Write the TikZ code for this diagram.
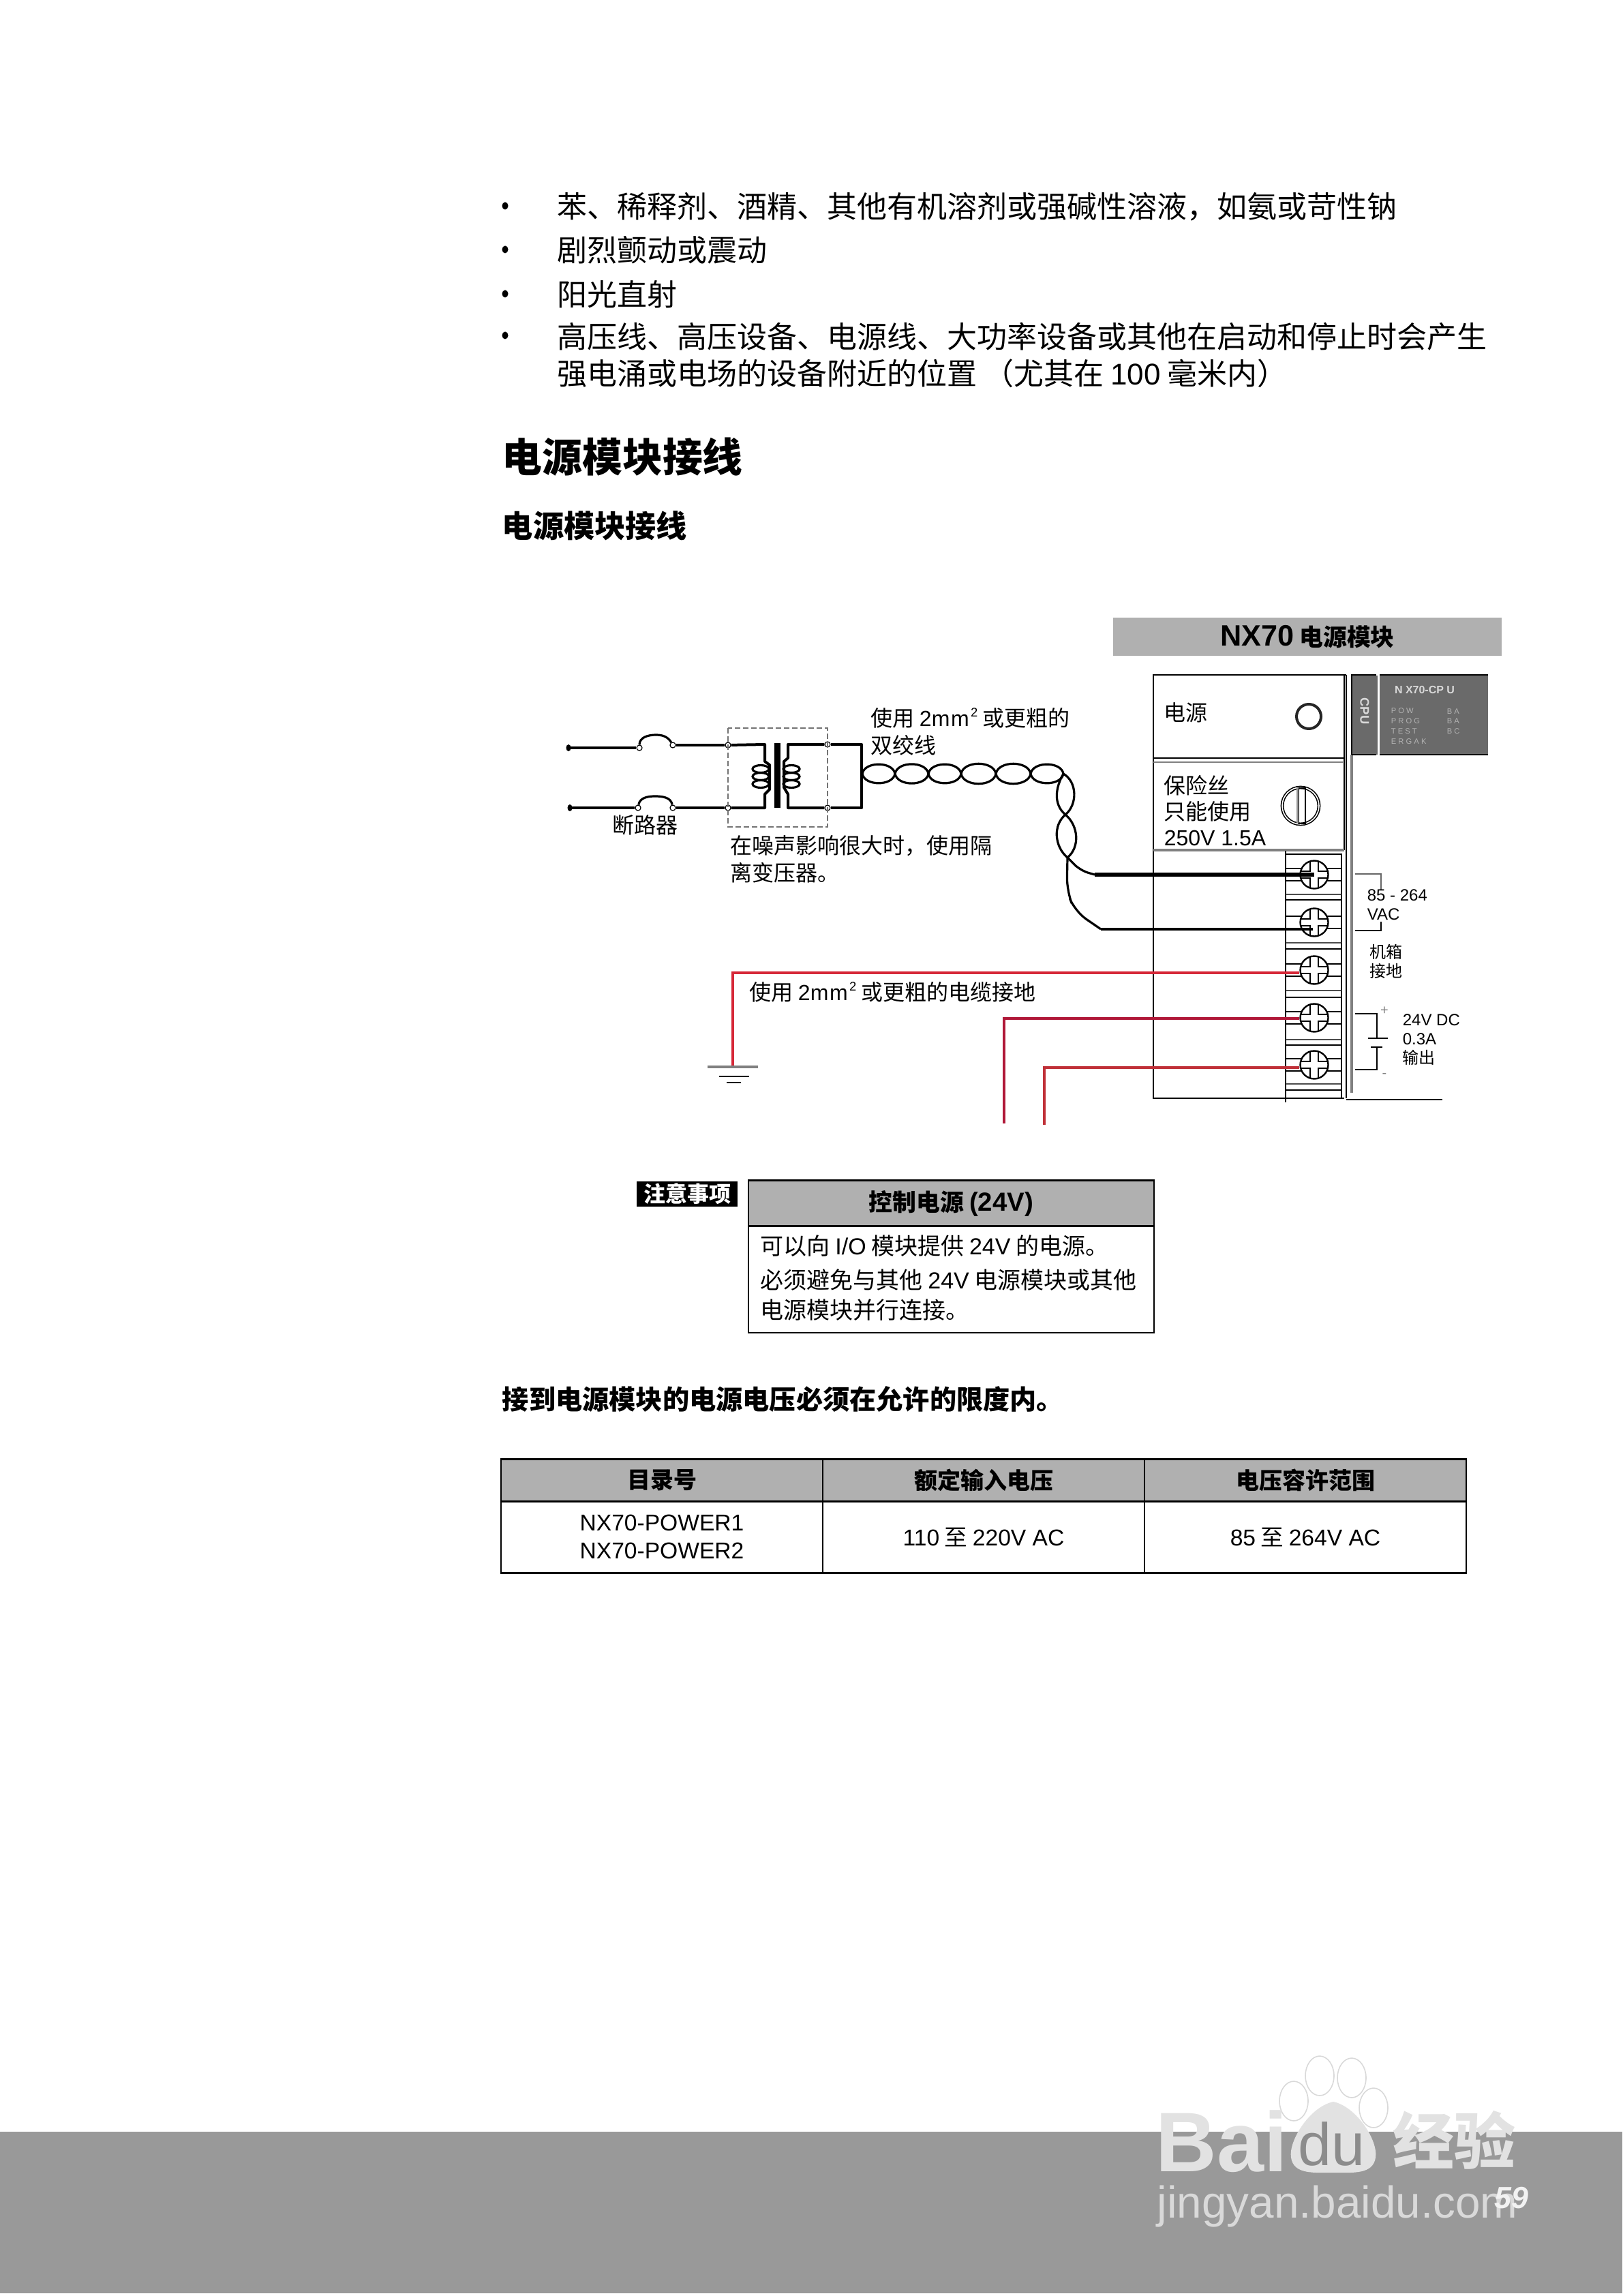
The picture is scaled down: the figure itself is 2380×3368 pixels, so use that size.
\documentclass[tikz,border=0pt]{standalone}
\usepackage{fontspec}
\setmainfont{Noto Sans CJK SC}
\newfontfamily\latfont{Liberation Sans}
\newcommand{\la}[1]{{\latfont #1}}
\newcommand{\fs}[2]{\fontsize{#1}{#2}\selectfont}
\newcommand{\sqmm}{\la{2m\kern0.4pt m\kern0.6pt\raisebox{3.4pt}{\fs{4.6}{5}2}}}
\definecolor{headgray}{HTML}{B0B0B0}
\definecolor{bandgray}{HTML}{999999}
\definecolor{cpugray}{HTML}{6A6A6A}
\definecolor{markgray}{HTML}{E2E2E2}
\definecolor{redA}{HTML}{D62838}
\definecolor{redB}{HTML}{B01838}
\definecolor{redC}{HTML}{C03038}
\begin{document}
\begin{tikzpicture}[x=0.25pt, y=-0.25pt,
	txt/.style={anchor=west, inner sep=0, align=left},
	body/.style={txt, font=\fs{11}{13.4}},
	diag/.style={txt, font=\fs{8}{10}},
	tiny/.style={txt, font=\fs{6}{7}},
	wire/.style={line width=1pt, line join=round},
	thin wire/.style={line width=0.8pt},
	contact/.style={circle, draw, fill=white, line width=0.3pt, minimum size=2pt, inner sep=0},
	screw/.style={circle, draw, fill=white, line width=0.6pt, minimum size=10.25pt, inner sep=0},
	head/.style={draw, fill=headgray, inner sep=0, line width=0.3pt, font=\fs{8.5}{10}\bfseries},
	cell/.style={draw, inner sep=0, line width=0.3pt, align=center, font=\fs{8.4}{10.2}},
	panel/.style={fill=cpugray, inner sep=0, text=white!85!black}]
	\useasboundingbox (0,0) rectangle (2380,3368);

	\fill[bandgray] (0,3127) rectangle (2380,3364);
	\foreach \mx/\my/\mr in {1898/3082/1, 1936/3045/2, 1983/3048/3, 2015/3092/4}
		\draw[black!15, fill=white, line width=0.4pt] (\mx,\my) ellipse [x radius=21, y radius=29];
	\fill[markgray] (1956,3083) .. controls (1990,3090) and (2022,3140) .. (2018,3165) .. controls (2014,3190) and (1985,3187) .. (1956,3187) .. controls (1927,3187) and (1898,3190) .. (1894,3165) .. controls (1890,3140) and (1922,3090) .. (1956,3083);
	\node (markbai) at (1695,3185) [anchor=base west, inner sep=0, text=markgray, font=\fs{31}{32}\bfseries\latfont] {Bai};
	\node (markdu) at (1953,3176) [anchor=base, inner sep=0, text=black!45, font=\fs{22}{22}\latfont] {du};
	\node (markjy) at (2043,3139) [txt, text=markgray, font=\fs{22.5}{24}\bfseries] {经验};
	\node (markurl) at (1697,3253) [anchor=base west, inner sep=0, text=black!15, font=\fs{16.4}{18}\latfont] {jingyan.baidu.com};
	\node (pageno) at (2217,3224) [inner sep=0, text=black!5, font=\fs{11.2}{12}\bfseries\itshape\latfont] {59};

	\foreach \by in {302, 366, 431, 492}
		\fill (741,\by) ellipse [x radius=4.5, y radius=5.5];
	\node (line1) at (817,303) [body] {苯、稀释剂、酒精、其他有机溶剂或强碱性溶液，如氨或苛性钠};
	\node (line2) at (817,367) [body] {剧烈颤动或震动};
	\node (line3) at (817,432) [body] {阳光直射};
	\node (line4) at (817,521) [body] {高压线、高压设备、电源线、大功率设备或其他在启动和停止时会产生\\强电涌或电场的设备附近的位置 （尤其在 \la{100} 毫米内）};
	\node (title) at (736,670) [txt, font=\fs{14.7}{18}\bfseries] {电源模块接线};
	\node (subtitle) at (736,771) [txt, font=\fs{11.3}{14}\bfseries] {电源模块接线};

	\node (nxhead) at (1918,934) [fill=headgray, inner sep=0, minimum width=142.5pt, minimum height=14pt, font=\fs{8.7}{10}\bfseries] {{\fs{10.8}{10}\latfont NX70} 电源模块};

	\draw[line width=0.6pt] (1692,1247) -- (1692,1611) -- (1972,1611);
	\draw[line width=0.6pt] (1692,1247) -- (1692,990) -- (1975,990);
	\draw[line width=0.7pt] (1975,990) -- (1975,1611);
	\draw[line width=0.4pt] (1972,990) -- (1972,1247);
	\draw[black!50, line width=0.8pt] (1983,1107) -- (1983,1603);
	\draw[line width=0.7pt] (1975,1613) -- (2116,1613);
	\draw[line width=0.6pt] (1692,1112) -- (1972,1112);
	\draw[black!50, line width=0.6pt] (1692,1118) -- (1972,1118);
	\draw[black!50, line width=1pt] (1692,1247) -- (1972,1247);

	\node (cpuside) at (2002,1049) [panel, minimum width=9.25pt, minimum height=29pt] {};
	\node (cpupanel) at (2103.5,1049) [panel, minimum width=39.75pt, minimum height=29pt] {};
	\draw[line width=0.6pt] (1983,1107) -- (1983,990) -- (2019,990) (2024,990) -- (2183,990);
	\draw[line width=0.6pt] (1983,1107) -- (2019,1107) (2024,1107) -- (2183,1107);
	\node (cputag) at (2002,1043) [inner sep=0, rotate=-90, text=white!85!black, font=\fs{4.6}{5}\bfseries\latfont] {CPU};
	\node (cpuname) at (2090,1012) [inner sep=0, text=white!85!black, font=\fs{4}{4}\bfseries\latfont] {N X70-CP U};
	\node (cpuleds) at (2040,1065) [txt, text=white!70!black, font=\fs{2.8}{3.7}\latfont] {P O W\\P R O G\\T E S T\\E R G A K};
	\node (cpuledr) at (2122,1058) [txt, text=white!70!black, font=\fs{2.8}{3.7}\latfont] {B A\\B A\\B C};

	\node (power) at (1707,1045) [diag] {电源};
	\node (powerled) at (1920,1051) [circle, draw, black!85, line width=1pt, minimum size=9pt, inner sep=0] {};
	\node (fuse) at (1707,1189) [txt, font=\fs{8}{9.6}] {保险丝\\只能使用\\\la{250V 1.5A}};
	\node (fusecap) at (1908,1182) [circle, draw, double, double distance=0.4pt, line width=0.4pt, minimum size=13.5pt, inner sep=0] {};
	\node (fuseslot) at (1910,1182) [draw, line width=0.4pt, minimum width=2.5pt, minimum height=13pt, inner sep=0] {};
	\fill[black!40] (1902,1155) rectangle (1905,1208);

	\draw[line width=0.5pt] (1886,1248) -- (1886,1617);
	\draw[line width=0.6pt] (1886,1253) -- (1968,1253) -- (1968,1611);
	\foreach \sepa/\sepb in {1312/1320, 1383/1392, 1453/1463, 1525/1533, 1590/1599} {
		\draw[black!70, line width=0.5pt] (1886,\sepa) -- (1968,\sepa);
		\draw[line width=0.5pt] (1886,\sepb) -- (1968,\sepb);
	}
	\foreach \sn/\sy in {1/1283, 2/1353, 3/1423, 4/1493, 5/1562} {
		\draw[line width=0.4pt] (1886,\sy-9) -- (1968,\sy-9) (1886,\sy+9) -- (1968,\sy+9);
		\node (screw\sn) at (1928,\sy) [screw] {};
		\draw[line width=0.4pt] (1922,\sy-20) -- (1922,\sy-5) -- (1909,\sy-5) (1909,\sy+5) -- (1922,\sy+5) -- (1922,\sy+20) (1934,\sy+20) -- (1934,\sy+5) -- (1947,\sy+5) (1947,\sy-5) -- (1934,\sy-5) -- (1934,\sy-20);
	}

	\coordinate (brkA) at (834,1097);
	\coordinate (brkB) at (836,1185);
	\node (ctA1) at (938,1097) [contact] {};
	\node (ctA2) at (987,1093) [contact] {};
	\node (ctB1) at (936,1185) [contact] {};
	\node (ctB2) at (987,1185) [contact] {};
	\node (ctC1) at (1068,1093) [contact] {};
	\node (ctC2) at (1068,1185) [contact] {};
	\node (ctD1) at (1214,1092) [contact] {};
	\node (ctD2) at (1214,1185) [contact] {};
	\fill (brkA) ellipse [x radius=3.5, y radius=5];
	\fill (brkB) ellipse [x radius=3.5, y radius=5];
	\draw[wire] (brkA) -- (ctA1);
	\draw[wire] (brkB) -- (ctB1);
	\draw[wire] (ctA2) -- (ctC1);
	\draw[wire] (ctB2) -- (ctC2);
	\draw[thin wire] (ctA1) to[out=90, in=180] (962,1078) to[out=0, in=120] (ctA2);
	\draw[thin wire] (ctB1) to[out=80, in=180] (961,1168) to[out=0, in=100] (ctB2);

	\draw[black!55, dash pattern=on 2pt off 1pt, line width=0.7pt] (1068,1068) rectangle (1214,1213);
	\draw[wire] (ctC1) -- (1122,1092) -- (1122,1117) -- (1129,1122) -- (1129,1158) -- (1122,1165) -- (1122,1185) -- (ctC2);
	\draw[wire] (ctD1) -- (1156,1092) -- (1156,1112) -- (1150,1117) -- (1150,1155) -- (1156,1165) -- (1156,1185) -- (ctD2);
	\draw[wire] (ctD1) -- (1264,1092) -- (1264,1185) -- (ctD2);
	\fill (1136,1090) rectangle (1145,1185);
	\foreach \cy in {1128, 1139, 1150} {
		\draw[thin wire] (1116,\cy) ellipse [x radius=12, y radius=5.5];
		\draw[thin wire] (1161,\cy) ellipse [x radius=12, y radius=5.5];
	}

	\foreach \tn/\tx in {0/1265, 1/1313, 2/1362, 3/1410, 4/1461, 5/1512, 6/1560}
		\coordinate (tw\tn) at (\tx,1135);
	\foreach \ta/\tb in {0/1, 1/2, 2/3, 3/4, 4/5, 5/6} {
		\draw[thin wire] (tw\ta) to[out=80, in=100] (tw\tb);
		\draw[thin wire] (tw\ta) to[out=-80, in=-100] (tw\tb);
	}
	\coordinate (vt1) at (1563,1195);
	\coordinate (vt2) at (1566,1258);
	\draw[thin wire] (tw6) to[out=-30, in=40] (vt1) to[out=-140, in=140] (vt2);
	\draw[thin wire] (tw6) to[out=-120, in=140] (vt1) to[out=-40, in=40] (vt2);

	\coordinate (lineA) at (1606,1283);
	\coordinate (lineB) at (1615,1363);
	\draw[thin wire, rounded corners=3pt] (vt2) -- (1585,1277) -- (lineA);
	\draw[thin wire, rounded corners=5pt] (vt2) -- (1565,1307) -- (1577,1337) -- (lineB);
	\draw[line width=1.3pt] (lineA) -- (screw1.center);
	\draw[line width=1pt] (lineB) -- (1926,1363);

	\coordinate (gnd) at (1075,1565);
	\coordinate (outP) at (1473,1648);
	\coordinate (outN) at (1532,1650);
	\coordinate (cornerG) at (1075,1427);
	\coordinate (cornerP) at (1473,1494);
	\coordinate (cornerN) at (1532,1566);
	\draw[redA, line width=1.1pt] (gnd) -- (cornerG) -- (cornerG -| screw3.west);
	\draw[redB, line width=1pt] (outP) -- (cornerP) -- (cornerP -| screw4.west);
	\draw[redC, line width=1.1pt] (outN) -- (cornerN) -- (cornerN -| screw5.west);
	\draw[black!50, line width=1.2pt] (1038,1565) -- (1112,1565);
	\draw[line width=0.5pt] (1055,1579) -- (1099,1579);
	\draw[line width=0.5pt] (1066,1588) -- (1087,1588);

	\node (breaker) at (898,1210) [diag] {断路器};
	\node (twist) at (1277,1073) [diag] {使用 \sqmm{} 或更粗的\\双绞线};
	\node (isolate) at (1071,1260) [diag] {在噪声影响很大时，使用隔\\离变压器。};
	\node (earth) at (1099,1455) [diag] {使用 \sqmm{} 或更粗的电缆接地};

	\draw[black!60, line width=0.7pt] (1988,1282) -- (2026,1282) -- (2026,1305);
	\draw[line width=0.5pt] (2026,1352) -- (2026,1365) -- (1988,1365);
	\node (vac) at (2005,1327) [tiny, font=\fs{6}{7}\latfont] {85 - 264\\VAC};
	\node (chassis) at (2009,1410) [tiny] {机箱\\接地};
	\draw[line width=0.5pt] (1988,1487) -- (2020,1487) -- (2020,1523);
	\draw[line width=0.6pt] (2007,1523) -- (2036,1523);
	\draw[line width=0.5pt] (2011,1536) -- (2028,1536);
	\draw[line width=0.5pt] (2020,1536) -- (2020,1569) -- (1988,1569);
	\node (plus) at (2031,1483) [inner sep=0, text=black!50, font=\fs{5}{5}\latfont] {+};
	\node (minus) at (2031,1577) [inner sep=0, text=black!50, font=\fs{5}{5}\latfont] {-};
	\node (dcout) at (2057,1525) [tiny, font=\fs{6}{7}\latfont] {24V DC\\0.3A\\{\fontspec{Noto Sans CJK SC}输出}};

	\node (notetag) at (1008,1751.5) [fill=black, text=white, inner sep=0, minimum width=37pt, minimum height=9.25pt, font=\fs{8}{9}\bfseries] {注意事项};
	\node (notehead) at (1395.5,1765) [head, minimum width=148.75pt, minimum height=16.5pt, font=\fs{8.7}{10}\bfseries] {控制电源 {\fs{9.6}{10}\latfont (24V)}};
	\node (notebody) at (1395.5,1876.5) [draw, line width=0.3pt, inner sep=0, minimum width=148.75pt, minimum height=39.25pt] {};
	\draw[line width=0.6pt] (notehead.north west) -- (notehead.north east);
	\draw[line width=0.6pt] (notehead.south west) -- (notehead.south east);
	\node (note1) at (1115,1828) [txt, font=\fs{8.5}{10}] {可以向 \la{I/O} 模块提供 \la{24V} 的电源。};
	\node (note2) at (1115,1900) [txt, font=\fs{8.5}{11}] {必须避免与其他 \la{24V} 电源模块或其他\\电源模块并行连接。};

	\node (limit) at (736,2053) [txt, font=\fs{9.8}{12}\bfseries] {接到电源模块的电源电压必须在允许的限度内。};
	\node (colA) at (971,2171.5) [head, minimum width=118pt, minimum height=15.25pt] {目录号};
	\node (colB) at (1443,2171.5) [head, minimum width=118pt, minimum height=15.25pt] {额定输入电压};
	\node (colC) at (1915,2171.5) [head, minimum width=118pt, minimum height=15.25pt] {电压容许范围};
	\node (rowA) at (971,2254.5) [cell, minimum width=118pt, minimum height=26.25pt] {\la{NX70-POWER1}\\\la{NX70-POWER2}};
	\node (rowB) at (1443,2254.5) [cell, minimum width=118pt, minimum height=26.25pt] {\raisebox{-0.8pt}{\la{110} 至 \la{220V AC}}};
	\node (rowC) at (1915,2254.5) [cell, minimum width=118pt, minimum height=26.25pt] {\raisebox{-0.8pt}{\la{85} 至 \la{264V AC}}};
	\draw[line width=0.7pt] (colA.north west) -- (colC.north east);
	\draw[line width=0.7pt] (colA.south west) -- (colC.south east);
	\draw[line width=0.7pt] (rowA.south west) -- (rowC.south east);
\end{tikzpicture}
\end{document}
